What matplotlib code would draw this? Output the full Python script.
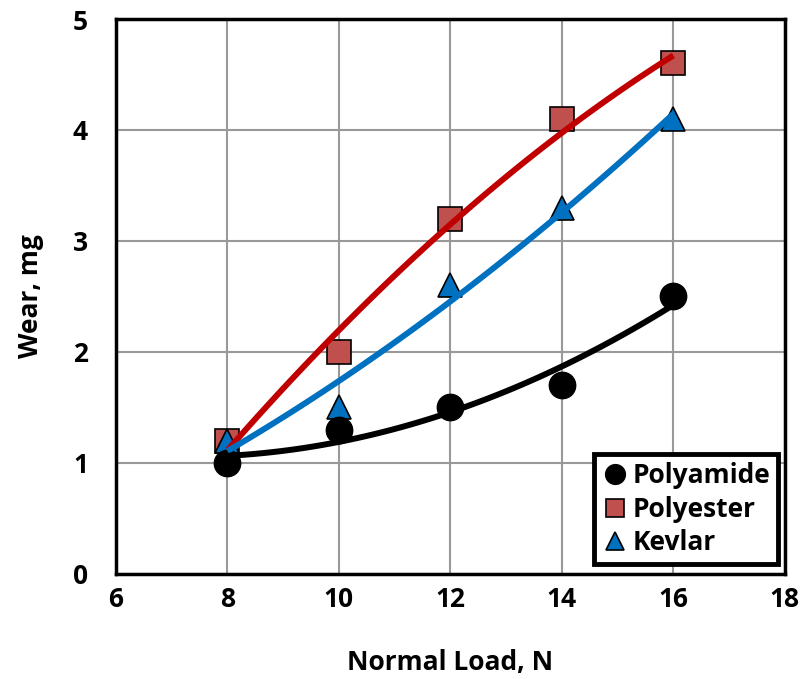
import numpy as np
import matplotlib
matplotlib.use("Agg")
from matplotlib import pyplot as plt

plt.rcParams["font.family"] = ["Open Sans", "DejaVu Sans"]
plt.rcParams["font.weight"] = "bold"

load = [8, 10, 12, 14, 16]
polyamide = [1.0, 1.3, 1.5, 1.7, 2.5]
polyester = [1.2, 2.0, 3.2, 4.1, 4.6]
kevlar = [1.2, 1.5, 2.6, 3.3, 4.1]

fig = plt.figure(figsize=(8.1, 6.79), dpi=100)
ax = fig.add_axes([0.143, 0.155, 0.826, 0.817])

ax.plot(load, polyester, "s", ms=17, mfc="#c0504d", mec="black", mew=1.2, label="Polyester", zorder=3)
ax.plot(load, kevlar, "^", ms=17, mfc="#0070c0", mec="black", mew=1.2, label="Kevlar", zorder=3)
ax.plot(load, polyamide, "o", ms=19, mfc="black", mec="black", label="Polyamide", zorder=3)

# second order trendlines
xs = np.linspace(8, 16, 100)
for vals, col in [(polyester, "#c00000"), (kevlar, "#0070c0"), (polyamide, "black")]:
    c = np.polyfit(load, vals, 2)
    ax.plot(xs, np.polyval(c, xs), color=col, lw=4.3, zorder=4, solid_capstyle="butt")

ax.set_xlim(6, 18)
ax.set_ylim(0, 5)
ax.set_xticks([6, 8, 10, 12, 14, 16, 18])
ax.set_yticks([0, 1, 2, 3, 4, 5])
ax.grid(True, color="#999999", lw=1.5)
ax.set_axisbelow(True)
for s in ax.spines.values():
    s.set_linewidth(2.5)
    s.set_color("black")
ax.tick_params(length=0, labelsize=19)
ax.tick_params(axis="x", pad=9)
ax.tick_params(axis="y", pad=20)
ax.set_xlabel("Normal Load, N", fontsize=19, fontweight="bold", labelpad=26)
ax.set_ylabel("Wear, mg", fontsize=19, fontweight="bold", labelpad=21)

h, l = ax.get_legend_handles_labels()
order = [2, 0, 1]
leg = ax.legend([h[i] for i in order], [l[i] for i in order], loc="lower right",
                fontsize=19, frameon=True, fancybox=False, framealpha=1,
                handletextpad=0.15, handlelength=1.0, borderpad=0.3,
                labelspacing=0.25, borderaxespad=0,
                bbox_to_anchor=(0.99, 0.017), markerscale=0.75)
leg.get_frame().set_edgecolor("black")
leg.get_frame().set_linewidth(3.5)
for t in leg.get_texts():
    t.set_fontweight("bold")

fig.savefig("out.png", dpi=100)
